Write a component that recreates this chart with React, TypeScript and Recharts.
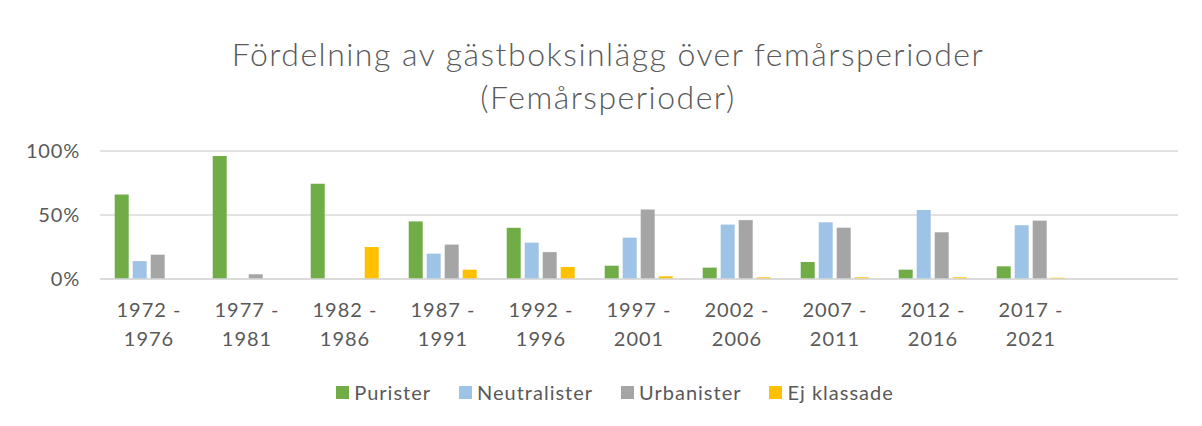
import { BarChart, Bar, XAxis, YAxis, CartesianGrid } from 'recharts';

const periods = [
  '1972 - 1976',
  '1977 - 1981',
  '1982 - 1986',
  '1987 - 1991',
  '1992 - 1996',
  '1997 - 2001',
  '2002 - 2006',
  '2007 - 2011',
  '2012 - 2016',
  '2017 - 2021',
  '',
];

const purister = [66, 96, 74.5, 45, 40, 10.4, 8.9, 13.3, 7.3, 9.9, 0];
const neutralister = [14, 0, 0, 19.8, 28.4, 32.3, 42.5, 44.3, 53.9, 42, 0];
const urbanister = [19, 3.7, 0, 26.9, 21, 54.2, 46, 40.1, 36.5, 45.6, 0];
const ejKlassade = [0, 0, 25, 7.3, 9.4, 2.1, 1.3, 1.3, 1.3, 1, 0];

const yTicks = [0, 50, 100];

const series = [
  { key: 'purister', name: 'Purister', color: '#70ad47' },
  { key: 'neutralister', name: 'Neutralister', color: '#9dc3e6' },
  { key: 'urbanister', name: 'Urbanister', color: '#a5a5a5' },
  { key: 'ejKlassade', name: 'Ej klassade', color: '#ffc000' },
];

const FONT = 'Lato, "Open Sans", sans-serif';
const TEXT = '#595959';

// split "1972 - 1976" into two lines like the original
const PeriodTick = (props: any) => {
  const { x, y, payload } = props;
  const label: string = payload.value || '';
  if (!label) return null;
  const [from, to] = label.split(' - ');
  return (
    <text x={x} y={y} textAnchor="middle" fill={TEXT} fontSize={20} fontFamily={FONT} letterSpacing={1}>
      <tspan x={x} dy={30}>{from} -</tspan>
      <tspan x={x} dy={29}>{to}</tspan>
    </text>
  );
};

export default function App() {
  const data = periods.map((p, i) => ({
    period: p,
    purister: purister[i],
    neutralister: neutralister[i],
    urbanister: urbanister[i],
    ejKlassade: ejKlassade[i],
  }));

  return (
    <div
      style={{
        position: 'relative',
        marginLeft: -1,
        marginTop: -1,
        width: 1200,
        height: 420,
        borderLeft: '1px solid #d9d9d9',
        borderTop: '1px solid #d9d9d9',
        fontFamily: FONT,
        color: TEXT,
      }}
    >
      {/* Title */}
      <div
        style={{
          position: 'absolute',
          left: 0,
          top: 24,
          width: 1200,
          textAlign: 'center',
          fontSize: 32,
          lineHeight: '43px',
          letterSpacing: 1.5,
          fontWeight: 300,
        }}
      >
        Fördelning av gästboksinlägg över femårsperioder
        <br />
        (Femårsperioder)
      </div>

      <div style={{ position: 'absolute', left: 0, top: 0 }}>
        <BarChart
          width={1194}
          height={418}
          data={data}
          margin={{ top: 143, right: 24, left: 0, bottom: 67 }}
          barCategoryGap="15%"
          barGap={4}
        >
          <CartesianGrid vertical={false} stroke="#d9d9d9" strokeWidth={1.5} />
          <XAxis
            dataKey="period"
            height={80}
            axisLine={{ stroke: '#d9d9d9', strokeWidth: 1.5 }}
            tickLine={false}
            tick={<PeriodTick />}
            interval={0}
          />
          <YAxis
            width={92}
            domain={[0, 100]}
            ticks={yTicks}
            axisLine={false}
            tickLine={false}
            tickMargin={14}
            tickFormatter={(v: number) => `${v}%`}
            tick={{ fill: TEXT, fontSize: 20, fontFamily: FONT, letterSpacing: 0.8 }}
          />
          {series.map((s) => (
            <Bar
              key={s.key}
              dataKey={s.key}
              name={s.name}
              fill={s.color}
              isAnimationActive={false}
            />
          ))}
        </BarChart>
      </div>

      {/* Legend */}
      <div
        style={{
          position: 'absolute',
          left: 0,
          top: 372,
          width: 1200,
          paddingLeft: 14,
          boxSizing: 'border-box',
          display: 'flex',
          justifyContent: 'center',
          alignItems: 'center',
          fontSize: 20,
          lineHeight: '24px',
          letterSpacing: 1,
        }}
      >
        {series.map((s) => (
          <div key={s.key} style={{ display: 'flex', alignItems: 'center', margin: '0 14px' }}>
            <span
              style={{
                display: 'inline-block',
                width: 13,
                height: 13,
                background: s.color,
                marginRight: 5,
              }}
            />
            <span>{s.name}</span>
          </div>
        ))}
      </div>
    </div>
  );
}
